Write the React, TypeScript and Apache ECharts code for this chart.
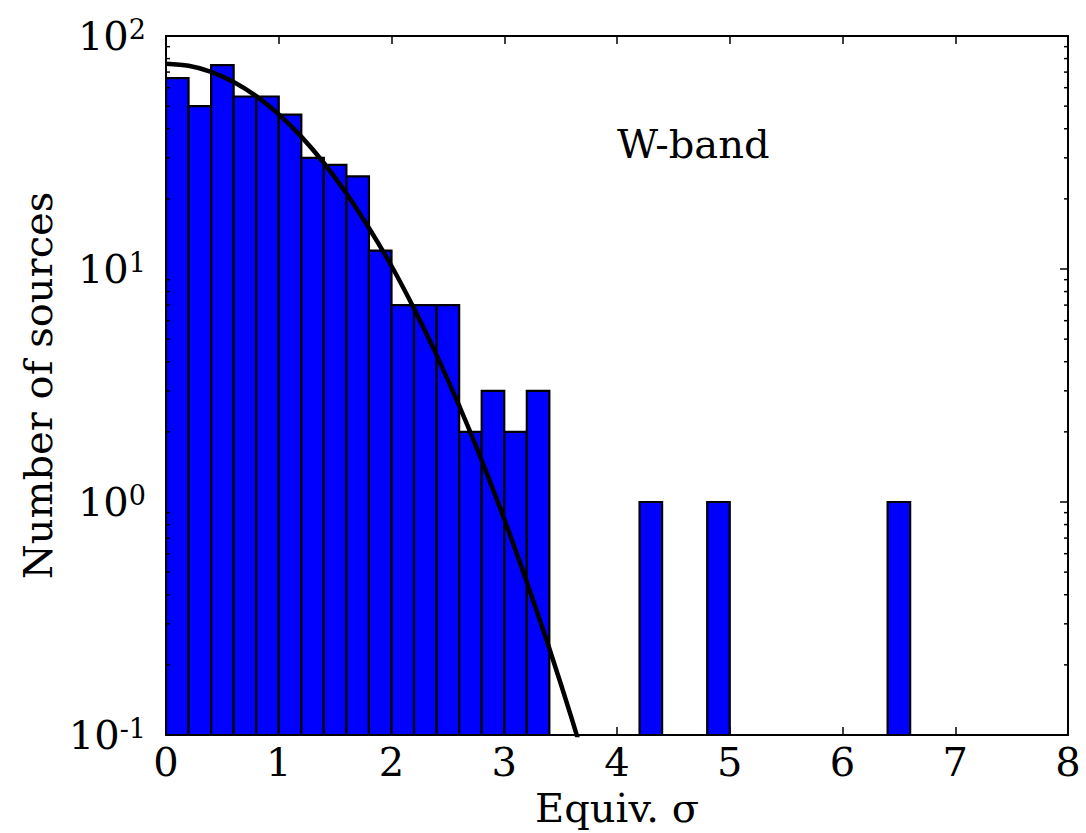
import React, { useEffect, useRef } from "react";
import * as echarts from "echarts";

// Histogram: bin lower edges (width 0.2) and counts
const binWidth = 0.2;
const binStarts = [0, 0.2, 0.4, 0.6, 0.8, 1.0, 1.2, 1.4, 1.6, 1.8, 2.0, 2.2, 2.4, 2.6, 2.8, 3.0, 3.2, 4.2, 4.8, 6.4];
const counts = [66, 50, 75, 55, 55, 46, 30, 28, 25, 12, 7, 7, 7, 2, 3, 2, 3, 1, 1, 1];

// Fitted curve
const curveX = [0, 0.2, 0.4, 0.6, 0.8, 1.0, 1.2, 1.4, 1.6, 1.8, 2.0, 2.2, 2.4, 2.6, 2.8, 3.0, 3.2, 3.4, 3.6, 3.8];
const curveY = [76, 74.5, 70.2, 63.5, 55.2, 46.1, 37.0, 28.5, 21.1, 15.0, 10.3, 6.76, 4.27, 2.59, 1.51, 0.844, 0.454, 0.235, 0.117, 0.0556];

// Axis ranges / tick labels
const xMin = 0;
const xMax = 8;
const yMin = 0.1;
const yMax = 100;
const minorTickValues = [0.2, 0.3, 0.4, 0.5, 0.6, 0.7, 0.8, 0.9, 2, 3, 4, 5, 6, 7, 8, 9, 20, 30, 40, 50, 60, 70, 80, 90];

const annotation = { x: 4, y: 30, text: "W-band" };
const xTitle = "Equiv. σ";
const yTitle = "Number of sources";

const FONT = "'DejaVu Serif', serif";

export default function App() {
  const ref = useRef<HTMLDivElement>(null);

  useEffect(() => {
    const chart = echarts.init(ref.current!, null, { renderer: "svg" });

    const axisLineStyle = { color: "#000", width: 2 };
    const tickStyle = { color: "#000", width: 1.5 };

    const yLabelRich = {
      b: { fontFamily: FONT, fontSize: 40, color: "#000", lineHeight: 40, padding: [10, 0, 10, 0] },
      s: { fontFamily: FONT, fontSize: 27, color: "#000", lineHeight: 28, verticalAlign: "top" },
    };

    const option: any = {
      animation: false,
      backgroundColor: "#fff",
      grid: { left: 166, right: 18, top: 36, bottom: 97, containLabel: false },
      xAxis: [
        {
          type: "value",
          min: xMin,
          max: xMax,
          interval: 1,
          position: "bottom",
          axisLine: { show: true, onZero: false, lineStyle: axisLineStyle },
          axisTick: { show: true, inside: true, length: 8, lineStyle: tickStyle },
          axisLabel: { show: true, margin: 7, fontFamily: FONT, fontSize: 40, color: "#000" },
          splitLine: { show: false },
          name: xTitle,
          nameLocation: "middle",
          nameGap: 53,
          nameTextStyle: { fontFamily: FONT, fontSize: 40, color: "#000" },
        },
        {
          type: "value",
          min: xMin,
          max: xMax,
          interval: 1,
          position: "top",
          axisLine: { show: true, onZero: false, lineStyle: axisLineStyle },
          axisTick: { show: true, inside: true, length: 8, lineStyle: tickStyle },
          axisLabel: { show: false },
          splitLine: { show: false },
        },
      ],
      yAxis: [
        {
          type: "log",
          logBase: 10,
          min: yMin,
          max: yMax,
          position: "left",
          axisLine: { show: true, onZero: false, lineStyle: axisLineStyle },
          axisTick: { show: true, inside: true, length: 8, lineStyle: tickStyle },
          axisLabel: {
            show: true,
            margin: 20,
            formatter: (v: number) => `{b|10}{s|${Math.round(Math.log10(v))}}`,
            rich: yLabelRich,
          },
          splitLine: { show: false },
          minorTick: { show: false },
          name: yTitle,
          nameLocation: "middle",
          nameGap: 108,
          nameRotate: 90,
          nameTextStyle: { fontFamily: FONT, fontSize: 40, color: "#000" },
        },
        {
          type: "log",
          logBase: 10,
          min: yMin,
          max: yMax,
          position: "right",
          axisLine: { show: true, onZero: false, lineStyle: axisLineStyle },
          axisTick: { show: true, inside: true, length: 8, lineStyle: tickStyle },
          axisLabel: { show: false },
          splitLine: { show: false },
        },
      ],
      series: [
        {
          type: "custom",
          name: "hist",
          xAxisIndex: 0,
          yAxisIndex: 0,
          clip: true,
          silent: true,
          encode: { x: [0, 1], y: 2 },
          data: binStarts.map((s, i) => [s, +(s + binWidth).toFixed(2), counts[i]]),
          renderItem: (params: any, api: any) => {
            const x0 = api.value(0);
            const x1 = api.value(1);
            const c = api.value(2);
            const p0 = api.coord([x0, c]);
            const p1 = api.coord([x1, yMin]);
            return {
              type: "rect",
              shape: { x: p0[0], y: p0[1], width: p1[0] - p0[0], height: p1[1] - p0[1] },
              style: { fill: "#0000ff", stroke: "#000", lineWidth: 2.2 },
            };
          },
          z: 2,
        },
        {
          type: "line",
          name: "fit",
          xAxisIndex: 0,
          yAxisIndex: 0,
          data: curveX.map((x, i) => [x, curveY[i]]),
          smooth: 0.3,
          showSymbol: false,
          symbol: "none",
          clip: true,
          lineStyle: { color: "#000", width: 4.5 },
          silent: true,
          z: 3,
        },
        {
          type: "custom",
          name: "minorTicks",
          xAxisIndex: 0,
          yAxisIndex: 0,
          silent: true,
          encode: { x: 0, y: 1 },
          data: minorTickValues.map((v) => [xMin, v]),
          renderItem: (params: any, api: any) => {
            const v = api.value(1);
            const l = api.coord([xMin, v]);
            const r = api.coord([xMax, v]);
            return {
              type: "group",
              children: [
                { type: "line", shape: { x1: l[0], y1: l[1], x2: l[0] + 4, y2: l[1] }, style: { stroke: "#000", lineWidth: 1.5 } },
                { type: "line", shape: { x1: r[0] - 4, y1: r[1], x2: r[0], y2: r[1] }, style: { stroke: "#000", lineWidth: 1.5 } },
              ],
            };
          },
          z: 4,
        },
        {
          type: "custom",
          name: "annotation",
          xAxisIndex: 0,
          yAxisIndex: 0,
          silent: true,
          encode: { x: 0, y: 1 },
          data: [[annotation.x, annotation.y]],
          renderItem: (params: any, api: any) => {
            const p = api.coord([api.value(0), api.value(1)]);
            return {
              type: "text",
              x: p[0],
              y: p[1] - 14,
              style: {
                text: annotation.text,
                fontFamily: FONT,
                fontSize: 40,
                fill: "#000",
                align: "left",
                verticalAlign: "middle",
              },
            };
          },
          z: 5,
        },
      ],
    };

    chart.setOption(option);
    return () => chart.dispose();
  }, []);

  return (
    <div
      ref={ref}
      style={{ position: "fixed", left: 0, top: 0, width: 1086, height: 833, background: "#fff" }}
    />
  );
}
